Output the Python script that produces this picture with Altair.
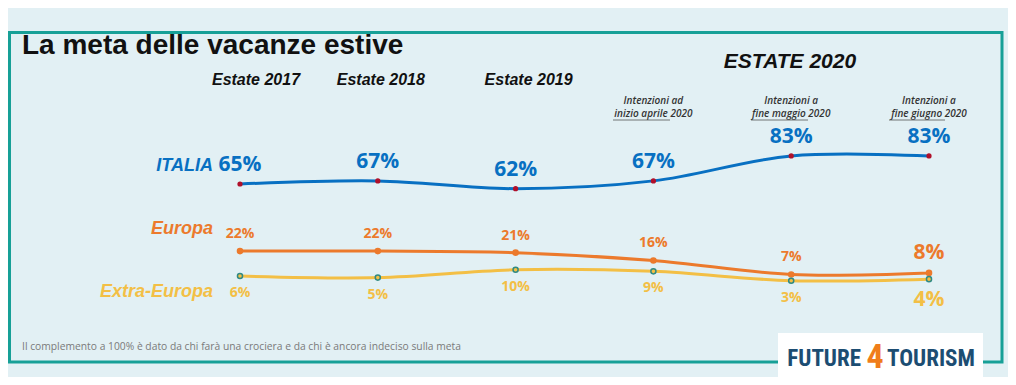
import altair as alt
import pandas as pd

# ---- data ----
periods = ["Estate 2017", "Estate 2018", "Estate 2019",
           "Intenzioni ad inizio aprile 2020", "Intenzioni a fine maggio 2020",
           "Intenzioni a fine giugno 2020"]
italia = [65, 67, 62, 67, 83, 83]
europa = [22, 22, 21, 16, 7, 8]
extra_europa = [6, 5, 10, 9, 3, 4]
series_names = ["ITALIA", "Europa", "Extra-Europa"]
header_years = ["Estate 2017", "Estate 2018", "Estate 2019"]
intent_line1 = ["Intenzioni ad", "Intenzioni a", "Intenzioni a"]
intent_line2 = ["inizio aprile 2020", "fine maggio 2020", "fine giugno 2020"]
title_text = "La meta delle vacanze estive"
group_title = "ESTATE 2020"
footnote = "Il complemento a 100% è dato da chi farà una crociera e da chi è ancora indeciso sulla meta"

rows = []
for name, vals in zip(series_names, [italia, europa, extra_europa]):
    for i, v in enumerate(vals):
        rows.append({"series": name, "idx": i, "value": v, "label": f"{v}%"})
df = pd.DataFrame(rows)

W, H = 1000, 369
BLUE, ORANGE, YELLOW = "#0870c2", "#ec7a2c", "#f3bf45"

xs = alt.Scale(domain=[-1.6836, 5.5733])
ys = alt.Scale(domain=[-58.72, 177.82])
X = alt.X("idx:Q", scale=xs, axis=None)
Y = alt.Y("value:Q", scale=ys, axis=None)

base = alt.Chart(df)

lines = base.mark_line(interpolate="catmull-rom", strokeWidth=3).encode(
    x=X, y=Y,
    color=alt.Color("series:N", scale=alt.Scale(domain=series_names, range=[BLUE, ORANGE, YELLOW]), legend=None),
    detail="series:N",
)

points = base.mark_point(shape="circle", strokeWidth=1.5, opacity=1).encode(
    x=X, y=Y,
    fill=alt.Fill("series:N", scale=alt.Scale(domain=series_names, range=["#b0102a", ORANGE, YELLOW]), legend=None),
    stroke=alt.Stroke("series:N", scale=alt.Scale(domain=series_names, range=["#b0102a", ORANGE, "#2f8a84"]), legend=None),
    size=alt.condition("datum.series == 'ITALIA'", alt.value(14), alt.value(26)),
)

lbl_font = "Open Sans"
it_lbl = base.transform_filter("datum.series == 'ITALIA'").mark_text(
    font=lbl_font, fontWeight="bold", fontSize=21, color=BLUE, dy=-19
).encode(x=X, y=Y, text="label:N")
eu_lbl = base.transform_filter("datum.series == 'Europa'").mark_text(
    font=lbl_font, fontWeight="bold", color=ORANGE, baseline="bottom", dy=-10
).encode(x=X, y=Y, text="label:N",
         size=alt.condition("datum.idx == 5", alt.value(21), alt.value(14)))
ex_lbl = base.transform_filter("datum.series == 'Extra-Europa'").mark_text(
    font=lbl_font, fontWeight="bold", color=YELLOW, baseline="top", dy=10
).encode(x=X, y=Y, text="label:N",
         size=alt.condition("datum.idx == 5", alt.value(21), alt.value(14)))

# series names at the left, next to the first value of each series
name_df = pd.DataFrame({"series": series_names,
                        "value": [italia[0], europa[0], extra_europa[0]],
                        "idx": [0, 0, 0]})
name_base = alt.Chart(name_df)
name_style = {"ITALIA": (BLUE, -18), "Europa": (ORANGE, -22), "Extra-Europa": (YELLOW, 16)}
name_layers = []
for s in series_names:
    col, off = name_style[s]
    name_layers.append(
        name_base.transform_filter(f"datum.series == '{s}'").mark_text(
            font="Liberation Sans", fontStyle="italic", fontWeight="bold", fontSize=18,
            align="right", dx=-27, dy=off, color=col
        ).encode(x=X, y=Y, text="series:N")
    )

# column headers
hdr_df = pd.DataFrame({"idx": [0, 1, 2], "text": header_years})
hdr_shift = [16, 3, 13]
hdr_layers = []
for i, sh in enumerate(hdr_shift):
    hdr_layers.append(
        alt.Chart(hdr_df).transform_filter(f"datum.idx == {i}").mark_text(
            font="Liberation Sans", fontStyle="italic", fontWeight="bold", fontSize=16,
            color="#111111", dx=sh
        ).encode(x=X, y=alt.value(72), text="text:N")
    )

int_df = pd.DataFrame({"idx": [3, 4, 5], "l1": intent_line1, "l2": intent_line2})
int1 = alt.Chart(int_df).mark_text(
    font="Open Sans", fontStyle="italic", fontWeight=600, fontSize=10, color="#333333"
).encode(x=X, y=alt.value(93), text="l1:N")
int2 = alt.Chart(int_df).mark_text(
    font="Open Sans", fontStyle="italic", fontWeight=600, fontSize=10, color="#333333"
).encode(x=X, y=alt.value(106), text="l2:N")

one = pd.DataFrame({"k": [0]})
underlines = [
    alt.Chart(one).mark_rule(color="#555555", strokeWidth=0.8).encode(
        x=alt.value(a), x2=alt.value(b), y=alt.value(112))
    for a, b in [(605, 662), (743, 800), (881, 937)]
]

border = alt.Chart(one).mark_rect(fill="transparent", stroke="#17a097", strokeWidth=3).encode(
    x=alt.value(1.5), x2=alt.value(994), y=alt.value(24.5), y2=alt.value(354))

title = alt.Chart(one).mark_text(
    text=title_text, font="Liberation Sans", fontWeight="bold", fontSize=28,
    align="left", baseline="alphabetic", color="#111111"
).encode(x=alt.value(14), y=alt.value(46))

estate = alt.Chart(one).mark_text(
    text=group_title, font="Liberation Sans", fontStyle="italic", fontWeight="bold",
    fontSize=21, align="center", color="#111111"
).encode(x=alt.value(782), y=alt.value(54))

foot = alt.Chart(one).mark_text(
    text=footnote, font="Open Sans", fontSize=10.3, align="left", color="#7a7a7a"
).encode(x=alt.value(14), y=alt.value(339))

logo_box = alt.Chart(one).mark_rect(fill="white").encode(
    x=alt.value(770), x2=alt.value(975), y=alt.value(325), y2=alt.value(369))
logo_font = "'Roboto Condensed', Roboto"
logo_a = alt.Chart(one).mark_text(
    text="FUTURE", font=logo_font, fontWeight="bold", fontSize=23,
    align="right", color="#1c4d72"
).encode(x=alt.value(853), y=alt.value(351))
logo_4 = alt.Chart(one).mark_text(
    text="4", font=logo_font, fontWeight="bold", fontSize=34,
    align="center", color="#f07d1a"
).encode(x=alt.value(867), y=alt.value(350))
logo_b = alt.Chart(one).mark_text(
    text="TOURISM", font=logo_font, fontWeight="bold", fontSize=23,
    align="left", color="#1c4d72"
).encode(x=alt.value(879), y=alt.value(351))

chart = alt.layer(
    border, title, estate, *hdr_layers, int1, int2, *underlines, foot,
    lines, points, it_lbl, eu_lbl, ex_lbl, *name_layers,
    logo_box, logo_a, logo_4, logo_b,
).properties(
    width=W, height=H, padding=0, autosize=alt.AutoSizeParams(type="none"),
    background="#e2f0f4",
).configure_view(strokeWidth=0)

chart.save("out.html", embed_options={"renderer": "svg", "actions": False})
